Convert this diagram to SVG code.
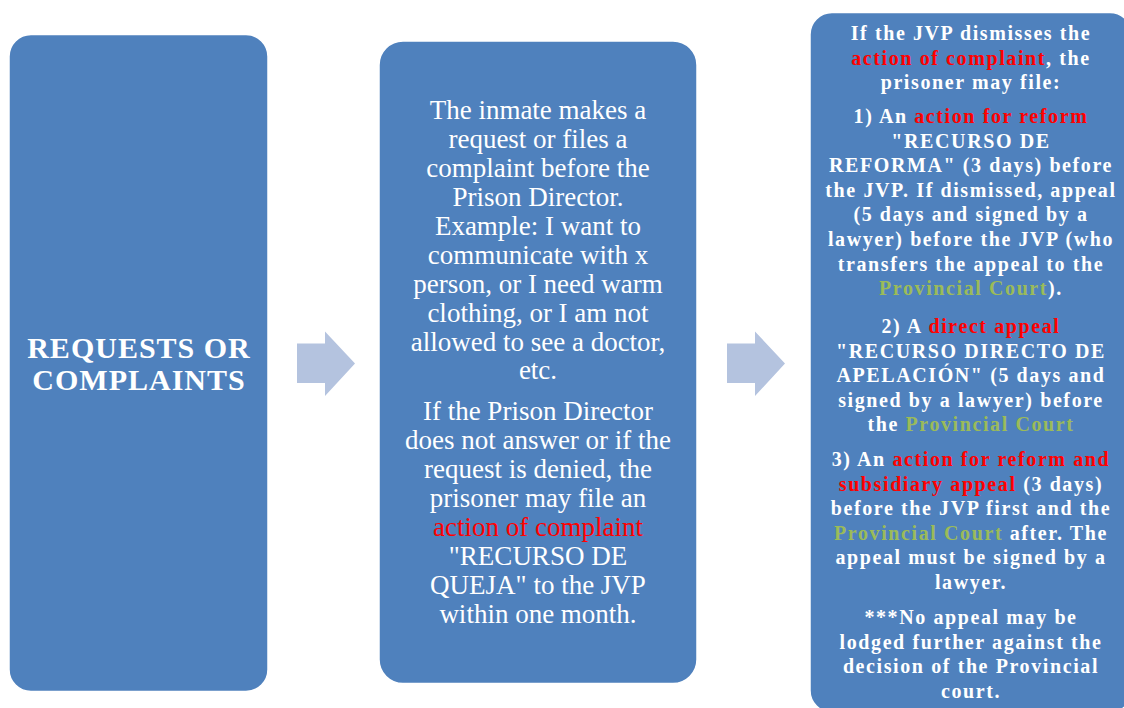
<svg xmlns="http://www.w3.org/2000/svg" width="1124" height="708" viewBox="0 0 1124 708">
<style>
.box{fill:#4F81BD;stroke:#FFFFFF;stroke-width:1.5}
.arrow{fill:#B4C3DF}
.t1{font-family:"Liberation Serif","Times New Roman",serif;font-weight:bold;font-size:30px;fill:#FFFFFF;text-anchor:middle;letter-spacing:1px}
.t2{font-family:"Liberation Serif","Times New Roman",serif;font-size:27px;fill:#FFFFFF;text-anchor:middle}
.t3{font-family:"Liberation Serif","Times New Roman",serif;font-weight:bold;font-size:20px;fill:#FFFFFF;text-anchor:middle;letter-spacing:1.6px}
.red{fill:#FF0000}
.grn{fill:#9BBB59}
</style>
<rect width="1124" height="708" fill="#FFFFFF"/>
<g id="connectors">
<path class="arrow" d="M297 343.5 H325 V331.5 L355 363.5 L325 396 V383 H297 Z"/>
<path class="arrow" d="M727 343.5 H755 V331.5 L785 363.5 L755 396 V383 H727 Z"/>
</g>
<g id="node-requests">
<rect class="box" x="9" y="34.5" width="259" height="657" rx="22" ry="22"/>
<text class="t1" x="139" y="358">REQUESTS OR</text>
<text class="t1" x="139" y="390">COMPLAINTS</text>
</g>
<g id="node-inmate">
<rect class="box" x="379" y="41" width="318" height="642.5" rx="24" ry="24"/>
<text class="t2" x="538" y="119">The inmate makes a</text>
<text class="t2" x="538" y="148">request or files a</text>
<text class="t2" x="538" y="177">complaint before the</text>
<text class="t2" x="538" y="206">Prison Director.</text>
<text class="t2" x="538" y="235">Example: I want to</text>
<text class="t2" x="538" y="264">communicate with x</text>
<text class="t2" x="538" y="293">person, or I need warm</text>
<text class="t2" x="538" y="322">clothing, or I am not</text>
<text class="t2" x="538" y="351">allowed to see a doctor,</text>
<text class="t2" x="538" y="379">etc.</text>
<text class="t2" x="538" y="420">If the Prison Director</text>
<text class="t2" x="538" y="449">does not answer or if the</text>
<text class="t2" x="538" y="478">request is denied, the</text>
<text class="t2" x="538" y="507">prisoner may file an</text>
<text class="t2" x="538" y="536"><tspan class="red">action of complaint</tspan></text>
<text class="t2" x="538" y="565">"RECURSO DE</text>
<text class="t2" x="538" y="594">QUEJA" to the JVP</text>
<text class="t2" x="538" y="623">within one month.</text>
</g>
<g id="node-appeals">
<rect class="box" x="810" y="12.5" width="322" height="700" rx="22" ry="22"/>
<text class="t3" x="971" y="40">If the JVP dismisses the</text>
<text class="t3" x="971" y="64.6"><tspan class="red">action of complaint</tspan>, the</text>
<text class="t3" x="971" y="89.2">prisoner may file:</text>
<text class="t3" x="971" y="123">1) An <tspan class="red">action for reform</tspan></text>
<text class="t3" x="971" y="147.6">"RECURSO DE</text>
<text class="t3" x="971" y="172.2">REFORMA" (3 days) before</text>
<text class="t3" x="971" y="196.8">the JVP. If dismissed, appeal</text>
<text class="t3" x="971" y="221.4">(5 days and signed by a</text>
<text class="t3" x="971" y="246">lawyer) before the JVP (who</text>
<text class="t3" x="971" y="270.6">transfers the appeal to the</text>
<text class="t3" x="971" y="295.2"><tspan class="grn">Provincial Court</tspan>).</text>
<text class="t3" x="971" y="333">2) A  <tspan class="red">direct appeal</tspan></text>
<text class="t3" x="971" y="357.6">"RECURSO DIRECTO DE</text>
<text class="t3" x="971" y="382.2">APELACIÓN" (5 days and</text>
<text class="t3" x="971" y="406.8">signed by a lawyer) before</text>
<text class="t3" x="971" y="431.4">the <tspan class="grn">Provincial Court</tspan></text>
<text class="t3" x="971" y="466">3) An <tspan class="red">action for reform and</tspan></text>
<text class="t3" x="971" y="490.6"><tspan class="red">subsidiary appeal</tspan> (3 days)</text>
<text class="t3" x="971" y="515.2">before the JVP first and the</text>
<text class="t3" x="971" y="539.8"><tspan class="grn">Provincial Court</tspan> after. The</text>
<text class="t3" x="971" y="564.4">appeal must be signed by a</text>
<text class="t3" x="971" y="589">lawyer.</text>
<text class="t3" x="971" y="624">***No appeal  may be</text>
<text class="t3" x="971" y="648.6">lodged further against the</text>
<text class="t3" x="971" y="673.2">decision of the Provincial</text>
<text class="t3" x="971" y="697.8">court.</text>
</g>
</svg>
